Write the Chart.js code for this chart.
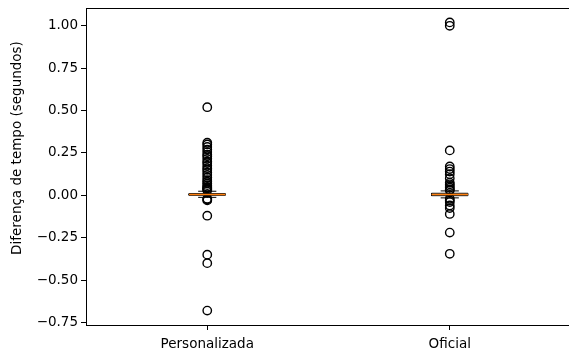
<!DOCTYPE html>
<html>
<head>
<meta charset="utf-8">
<script src="https://cdn.jsdelivr.net/npm/chart.js@4"></script>
<style>
  html, body { margin: 0; padding: 0; background: #fff; }
  #wrap { width: 569px; height: 353px; }
</style>
</head>
<body>
<div id="wrap"><canvas id="box" width="569" height="353"></canvas></div>
<script>
// Categories and box statistics (time difference, seconds)
const categories = ['Personalizada', 'Oficial'];
const medians = [0.005, 0.005];
const q1 = [0.0, -0.002];
const q3 = [0.01, 0.012];
const whiskerLow = [-0.012, -0.015];
const whiskerHigh = [0.024, 0.026];

// Outliers per category
const fliersPersonalizada = [0.52, 0.31, 0.30, 0.285, 0.27, 0.255, 0.24, 0.23, 0.215, 0.20, 0.19,
  0.175, 0.16, 0.15, 0.135, 0.12, 0.105, 0.09, 0.08, 0.07, 0.06, 0.05, 0.045, 0.04, 0.035, 0.03,
  -0.02, -0.025, -0.03, -0.12, -0.35, -0.40, -0.68];
const fliersOficial = [1.02, 1.00, 0.265, 0.17, 0.155, 0.14, 0.125, 0.10, 0.075, 0.065, 0.055,
  0.045, 0.035, 0.03, -0.02, -0.03, -0.04, -0.06, -0.075, -0.11, -0.22, -0.345];

const yTicks = [-0.75, -0.5, -0.25, 0, 0.25, 0.5, 0.75, 1.0];
const yLabel = 'Diferença de tempo (segundos)';

const FONT = { family: 'DejaVu Sans', size: 13.5 };
const BOX_HALF = 0.075;
const CAP_HALF = 0.0375;

const fliers = [fliersPersonalizada, fliersOficial];
const flierPoints = [];
fliers.forEach((vals, i) => vals.forEach(v => flierPoints.push({ x: i + 1, y: v })));

// box outline, whiskers and caps as broken polylines
const boxPts = [];
const whiskerPts = [];
const medianPts = [];
categories.forEach((c, i) => {
  const p = i + 1;
  boxPts.push({ x: p - BOX_HALF, y: q1[i] }, { x: p + BOX_HALF, y: q1[i] },
    { x: p + BOX_HALF, y: q3[i] }, { x: p - BOX_HALF, y: q3[i] },
    { x: p - BOX_HALF, y: q1[i] }, { x: p, y: null });
  whiskerPts.push({ x: p, y: q1[i] }, { x: p, y: whiskerLow[i] }, { x: p, y: null },
    { x: p, y: q3[i] }, { x: p, y: whiskerHigh[i] }, { x: p, y: null },
    { x: p - CAP_HALF, y: whiskerLow[i] }, { x: p + CAP_HALF, y: whiskerLow[i] }, { x: p, y: null },
    { x: p - CAP_HALF, y: whiskerHigh[i] }, { x: p + CAP_HALF, y: whiskerHigh[i] }, { x: p, y: null });
  medianPts.push({ x: p - BOX_HALF, y: medians[i] }, { x: p + BOX_HALF, y: medians[i] }, { x: p, y: null });
});

// top spine and rotated y label
const frame = {
  id: 'frame',
  afterDraw(chart) {
    const { ctx, chartArea } = chart;
    ctx.save();
    ctx.strokeStyle = '#000';
    ctx.lineWidth = 1;
    ctx.beginPath();
    ctx.moveTo(chartArea.left, chartArea.top + 0.5);
    ctx.lineTo(chartArea.right, chartArea.top + 0.5);
    ctx.stroke();
    ctx.translate(17, 148);
    ctx.rotate(-Math.PI / 2);
    ctx.font = FONT.size + 'px "' + FONT.family + '"';
    ctx.fillStyle = '#000';
    ctx.textAlign = 'center';
    ctx.textBaseline = 'middle';
    ctx.fillText(yLabel, 0, 0);
    ctx.restore();
  }
};

new Chart(document.getElementById('box'), {
  type: 'scatter',
  data: {
    datasets: [
      {
        data: boxPts, showLine: true, spanGaps: false, borderColor: '#000', borderWidth: 1,
        pointRadius: 0, order: 3
      },
      {
        data: whiskerPts, showLine: true, spanGaps: false, borderColor: '#000', borderWidth: 1,
        pointRadius: 0, order: 3
      },
      {
        data: flierPoints, showLine: false, pointStyle: 'circle', pointRadius: 4.2,
        backgroundColor: 'rgba(0,0,0,0)', borderColor: '#000', pointBorderWidth: 1.4, order: 2
      },
      {
        data: medianPts, showLine: true, spanGaps: false, borderColor: '#ff7f0e', borderWidth: 1.5,
        pointRadius: 0, order: 1
      }
    ]
  },
  options: {
    responsive: false,
    animation: false,
    devicePixelRatio: 1,
    layout: { autoPadding: false, padding: { top: 8, left: 0, right: 0, bottom: 0 } },
    plugins: { legend: { display: false }, tooltip: { enabled: false } },
    scales: {
      x: {
        type: 'linear',
        min: 0.5,
        max: 2.4917,
        afterBuildTicks: s => { s.ticks = [{ value: 1 }, { value: 2 }]; },
        afterFit: s => { s.height = 28; s.paddingLeft = 0; s.paddingRight = 0; },
        ticks: {
          color: '#000', font: FONT, padding: 6, maxRotation: 0,
          callback: v => categories[v - 1]
        },
        grid: { drawOnChartArea: false, drawTicks: true, tickLength: 5, color: '#000' },
        border: { display: true, color: '#000', width: 1 }
      },
      y: {
        type: 'linear',
        min: -0.765,
        max: 1.105,
        afterBuildTicks: s => { s.ticks = yTicks.map(v => ({ value: v })); },
        afterFit: s => { s.width = 86; s.paddingTop = 0; s.paddingBottom = 0; },
        ticks: {
          color: '#000', font: FONT, padding: 3,
          callback: v => Number(v).toFixed(2).replace('-', '\u2212')
        },
        grid: { drawOnChartArea: false, drawTicks: true, tickLength: 5, color: '#000' },
        border: { display: true, color: '#000', width: 1 }
      }
    }
  },
  plugins: [frame]
});
</script>
</body>
</html>
